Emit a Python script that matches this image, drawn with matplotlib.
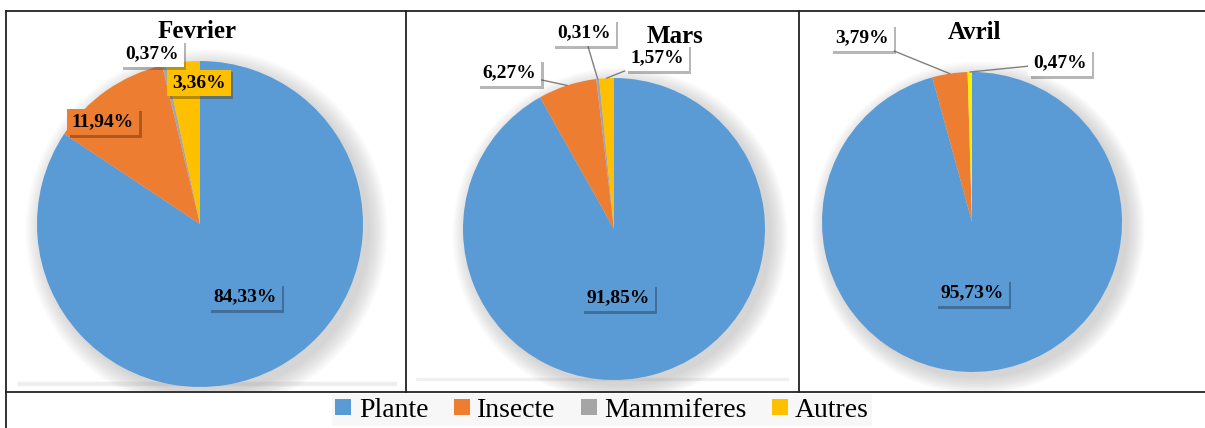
import numpy as np
import matplotlib.pyplot as plt
import matplotlib.patheffects as pe
from matplotlib.lines import Line2D
from matplotlib.patches import Rectangle, Circle

# data
categories = ["Plante", "Insecte", "Mammiferes", "Autres"]
months = ["Fevrier", "Mars", "Avril"]
fevrier = [84.33, 11.94, 0.37, 3.36]
mars = [91.85, 6.27, 0.31, 1.57]
avril = [95.73, 3.79, 0.0, 0.47]
colors = ["#5B9BD5", "#ED7D31", "#A5A5A5", "#FFC000"]

W, H = 1205, 428
plt.rcParams["font.family"] = ["Liberation Serif", "DejaVu Serif"]
fig = plt.figure(figsize=(W / 100, H / 100), dpi=100)

# frame of the table (pixels from top-left)
frame = fig.add_axes([0, 0, 1, 1])
frame.set_xlim(0, W)
frame.set_ylim(H, 0)
frame.axis("off")
lk = dict(color="#222222", lw=1.3)
frame.plot([6, 1205], [11, 11], **lk)
frame.plot([6, 6], [11, 428], **lk)
frame.plot([6, 1205], [392, 392], **lk)
frame.plot([406, 406], [11, 392], **lk)
frame.plot([799, 799], [11, 392], **lk)
# faint strip at bottom of plot areas
frame.add_patch(Rectangle((18, 382), 378, 3, color="#eeeeee", zorder=0))
frame.add_patch(Rectangle((416, 378), 372, 2, color="#f0f0f0", zorder=0))

# layout per pie: cell (x0, y0, x1, y1), centre, radius, title pos
cells = [(7, 12, 405, 391), (407, 12, 798, 391), (800, 12, 1204, 391)]
centres = [(200, 224, 163), (614, 229, 151), (972, 222, 150)]
title_pos = [(197, 32), (675, 37), (975, 33)]
# label positions (pixels)
label_pos = [
    [(245, 297), (103, 122), (152, 54), (199, 83)],
    [(618, 298), (509, 73), (584, 33), (657, 58)],
    [(972, 293), (862, 38), None, (1060, 63)],
]
label_bg = [
    ["#5B9BD5", "#ED7D31", "white", "#FFC000"],
    ["#5B9BD5", "white", "white", "white"],
    ["#5B9BD5", "white", "white", "white"],
]
leaders = [
    [False, False, False, False],
    [False, True, True, True],
    [False, True, False, True],
]

for k, vals in enumerate([fevrier, mars, avril]):
    x0, y0, x1, y1 = cells[k]
    cx, cy, r = centres[k]
    ax = fig.add_axes([x0 / W, 1 - y1 / H, (x1 - x0) / W, (y1 - y0) / H])

    cols = list(colors)
    if k == 2:
        cols[3] = "#FFEE00"
    wedges, _ = ax.pie(vals, colors=cols, startangle=90, counterclock=False,
                       radius=1, wedgeprops=dict(linewidth=0))
    ax.set_aspect("auto")
    ax.set_xlim((x0 - cx) / r, (x1 - cx) / r)
    ax.set_ylim((cy - y1) / r, (cy - y0) / r)
    ax.axis("off")
    for w in wedges:
        w.set_zorder(2)

    # soft shadow
    for i in range(12):
        ax.add_patch(Circle((0.04, -0.04), 1.0 + 0.01 * i, color="#888888",
                            alpha=0.03, lw=0, zorder=0))

    tx, ty = title_pos[k]
    ax.text((tx - cx) / r, (cy - ty) / r, months[k], ha="center", va="center",
            fontsize=18, fontweight="bold", zorder=5)

    for i, v in enumerate(vals):
        pos = label_pos[k][i]
        if pos is None or v == 0:
            continue
        lx, ly = (pos[0] - cx) / r, (cy - pos[1]) / r
        txt = ("%.2f%%" % v).replace(".", ",")
        w = wedges[i]
        mid = np.deg2rad((w.theta1 + w.theta2) / 2)
        bbox = dict(boxstyle="square,pad=0.25", fc=label_bg[k][i], ec="none")
        if leaders[k][i]:
            t = ax.annotate(txt, xy=(np.cos(mid), np.sin(mid)), xytext=(lx, ly),
                            ha="center", va="center", fontsize=14, fontweight="bold",
                            bbox=bbox, zorder=6,
                            arrowprops=dict(arrowstyle="-", color="#808080", lw=1,
                                            shrinkA=0, shrinkB=0))
        else:
            t = ax.text(lx, ly, txt, ha="center", va="center", fontsize=14,
                        fontweight="bold", bbox=bbox, zorder=6)
        t.get_bbox_patch().set_path_effects(
            [pe.SimplePatchShadow(offset=(2, -2), alpha=0.4), pe.Normal()])

# legend
handles = [Line2D([], [], marker="s", ls="none", markersize=12, color=c,
                  markeredgewidth=0) for c in colors]
leg = fig.legend(handles, categories, loc="center", bbox_to_anchor=(602 / W, 1 - 410 / H),
                 ncol=4, frameon=True, fontsize=20, handlelength=0.6, handletextpad=0.25,
                 columnspacing=0.9, borderpad=0.12, fancybox=False)
leg.get_frame().set_facecolor("#f6f6f6")
leg.get_frame().set_edgecolor("none")

fig.savefig("out.png", dpi=100)
